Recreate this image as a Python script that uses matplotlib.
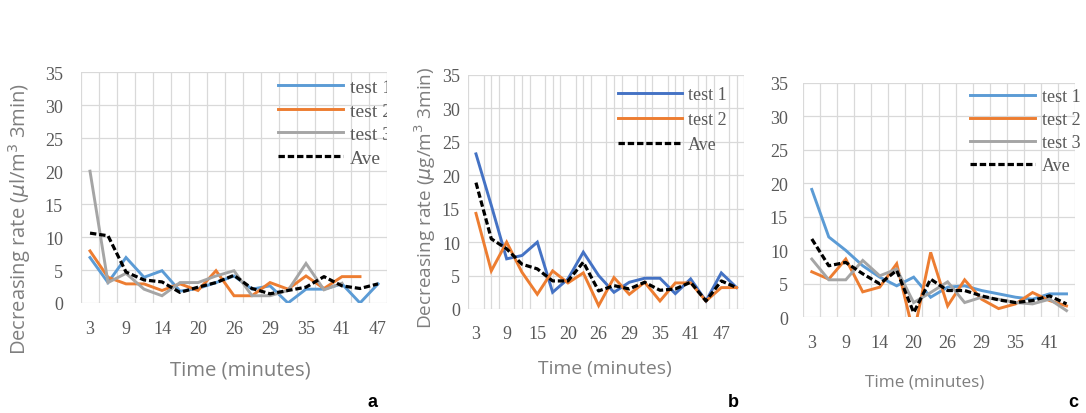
import numpy as np
import matplotlib
matplotlib.use("Agg")
import matplotlib.pyplot as plt
from matplotlib.patches import Rectangle

# ---------------- data ----------------
time_a = [3, 6, 9, 11, 14, 17, 20, 23, 26, 27, 29, 32, 35, 38, 41, 44, 47]
a_test1 = [6.9, 3.1, 6.9, 3.9, 4.9, 1.8, 2.2, 3.1, 4.1, 2.1, 2.6, 0.0, 2.1, 2.1, 2.9, 0.0, 2.9]
a_test2 = [7.9, 3.9, 2.9, 2.9, 1.9, 2.9, 1.9, 4.9, 1.1, 1.1, 3.1, 2.1, 4.1, 2.2, 4.0, 4.0]
a_test3 = [20.0, 3.1, 4.5, 2.1, 1.1, 3.1, 3.1, 4.1, 4.9, 1.1, 1.1, 1.9, 6.0, 2.0, 3.0]
a_ave = [10.6, 10.2, 4.7, 3.5, 3.2, 1.6, 2.4, 3.1, 4.2, 2.2, 1.4, 1.9, 2.4, 4.0, 2.6, 2.2, 2.9]

time_b = [3, 6, 9, 12, 15, 17, 20, 23, 26, 27, 29, 32, 35, 38, 41, 44, 47, 50]
b_test1 = [23.2, 15.5, 7.5, 8.0, 10.0, 2.5, 4.5, 8.5, 5.0, 2.5, 4.0, 4.6, 4.6, 2.3, 4.5, 1.2, 5.4, 3.2]
b_test2 = [14.3, 5.7, 10.0, 5.5, 2.2, 5.7, 3.9, 5.4, 0.5, 4.7, 2.2, 4.0, 1.2, 3.9, 3.9, 1.2, 3.2, 3.2]
b_ave = [18.9, 10.5, 9.0, 6.7, 6.0, 4.2, 4.2, 7.0, 2.7, 3.5, 3.0, 4.0, 2.8, 3.0, 4.0, 1.2, 4.2, 3.2]

time_c = [3, 6, 9, 11, 14, 17, 20, 23, 26, 27, 29, 32, 35, 38, 41, 44]
c_test1 = [19.1, 12.0, 10.0, 7.7, 6.0, 4.7, 6.0, 3.0, 4.5, 4.7, 4.0, 3.5, 3.0, 2.7, 3.5, 3.5]
c_test2 = [6.8, 5.7, 8.7, 3.8, 4.5, 8.0, -2.5, 9.7, 1.7, 5.6, 2.7, 1.3, 2.0, 3.7, 2.5, 1.7]
c_test3 = [8.7, 5.6, 5.6, 8.5, 6.2, 7.2, 2.2, 3.7, 5.3, 2.2, 3.0, 2.7, 2.2, 2.0, 2.7, 1.0]
c_ave = [11.7, 7.7, 8.2, 6.5, 5.0, 7.0, 0.7, 5.7, 4.0, 4.0, 3.2, 2.6, 2.2, 2.5, 3.2, 2.0]

yticks = [0, 5, 10, 15, 20, 25, 30, 35]
legend_labels_3 = ["test 1", "test 2", "test 3", "Ave"]
legend_labels_2 = ["test 1", "test 2", "Ave"]

# ---------------- style ----------------
W, H = 1086, 414
fig = plt.figure(figsize=(W / 100, H / 100), dpi=100)
fig.patch.set_facecolor("white")

BLUE = "#5b9bd5"
BLUE_B = "#4472c4"
ORANGE = "#ed7d31"
GRAY = "#a5a5a5"
GRID = "#d9d9d9"
TICK = "#595959"
LABEL = "#7f7f7f"
SERIF = "Liberation Serif"
SANS = "Open Sans"
LW = 2.1


def rect(left, top, right, bottom):
    return [left / W, 1 - bottom / H, (right - left) / W, (bottom - top) / H]


def setup(ax, n, xmax, times, minor_step, ypad, xpad):
    ax.set_ylim(0, 35)
    ax.set_xlim(-0.5, xmax)
    ax.set_yticks(yticks)
    ax.set_xticks(range(0, n, 2))
    ax.set_xticklabels([str(t) for t in times[::2]])
    ax.set_xticks(np.arange(-0.5, n - 0.5 + 1e-6, minor_step), minor=True)
    ax.grid(axis="y", which="major", color=GRID, lw=0.9)
    ax.grid(axis="x", which="minor", color=GRID, lw=0.9)
    ax.grid(axis="x", which="major", visible=False)
    ax.set_axisbelow(True)
    for s in ax.spines.values():
        s.set_visible(False)
    ax.tick_params(axis="both", which="both", length=0)
    ax.tick_params(axis="y", pad=ypad, labelsize=13, labelcolor=TICK)
    ax.tick_params(axis="x", pad=xpad, labelsize=13, labelcolor=TICK)
    for lab in ax.get_xticklabels() + ax.get_yticklabels():
        lab.set_fontfamily(SERIF)


def add_legend(ax, handles, labels, x, y, fs, hl, pad, spacing):
    ax.legend(handles, labels, loc="upper left",
              bbox_to_anchor=(x / W, 1 - y / H), bbox_transform=fig.transFigure,
              frameon=False, borderpad=0, borderaxespad=0,
              handlelength=hl, handletextpad=pad, labelspacing=spacing,
              prop={"family": SERIF, "size": fs}, labelcolor=TICK)


def plot_series(ax, vals, color, dashed=False):
    x = np.arange(len(vals))
    if dashed:
        return ax.plot(x, vals, color="black", lw=2.3, ls=(0, (2.0, 0.9)),
                       dash_capstyle="butt")[0]
    return ax.plot(x, vals, color=color, lw=LW, solid_joinstyle="miter")[0]


# ---------------- panel a ----------------
CROP_A = 387
axa = fig.add_axes(rect(81, 73.3, CROP_A, 304))
setup(axa, len(time_a), (CROP_A - 81) / 18.5 - 0.5, time_a, 1.0, 13.0, 12.5)
h1 = plot_series(axa, a_test1, BLUE)
h2 = plot_series(axa, a_test2, ORANGE)
h3 = plot_series(axa, a_test3, GRAY)
h4 = plot_series(axa, a_ave, None, dashed=True)
add_legend(axa, [h1, h2, h3, h4], legend_labels_3, 278, 79.6, 14, 3.35, 0.36, 0.30)

# ---------------- panel b ----------------
axb = fig.add_axes(rect(468.3, 76, 744.3, 310))
setup(axb, len(time_b), len(time_b) - 0.5, time_b, 0.5, 6.0, 11.5)
g1 = plot_series(axb, b_test1, BLUE_B)
g2 = plot_series(axb, b_test2, ORANGE)
g3 = plot_series(axb, b_ave, None, dashed=True)
add_legend(axb, [g1, g2, g3], legend_labels_2, 618, 87.2, 13, 3.54, 0.33, 0.44)

# ---------------- panel c ----------------
axc = fig.add_axes(rect(803.3, 84, 1075, 318.3))
setup(axc, len(time_c), len(time_c) - 0.5, time_c, 1.0, 11.0, 12.0)
k1 = plot_series(axc, c_test1, BLUE)
k2 = plot_series(axc, c_test2, ORANGE)
k3 = plot_series(axc, c_test3, GRAY)
k4 = plot_series(axc, c_ave, None, dashed=True)
add_legend(axc, [k1, k2, k3, k4], legend_labels_3, 970, 88.9, 13, 3.6, 0.39, 0.34)

# crop of panel a (the source chart is cut at its right edge)
fig.add_artist(Rectangle((CROP_A / W, 1 - 360 / H), 17 / W, 300 / H,
                         transform=fig.transFigure, facecolor="white",
                         edgecolor="none", zorder=10))

# ---------------- axis titles ----------------
fig.text(20 / W, 1 - 219 / H, "Decreasing rate ($\\mu$l/m$^3$ 3min)", rotation=90,
         ha="center", va="center", fontsize=14.5, color=LABEL, family=SANS)
fig.text(425 / W, 1 - 198 / H, "Decreasing rate ($\\mu$g/m$^3$ 3min)", rotation=90,
         ha="center", va="center", fontsize=13.7, color=LABEL, family=SANS)
for xc, yc, fs in [(240, 371, 14.6), (605, 369, 13.9), (925, 383, 12.3)]:
    fig.text(xc / W, 1 - yc / H, "Time (minutes)", ha="center", va="center",
             fontsize=fs, color=LABEL, family=SANS)
for xc, lab in [(372, "a"), (733, "b"), (1073, "c")]:
    fig.text(xc / W, 1 - 403 / H, lab, ha="center", va="center",
             fontsize=13, fontweight="bold", color="black", family="Liberation Sans")

fig.savefig("out.png", dpi=100, facecolor="white")
